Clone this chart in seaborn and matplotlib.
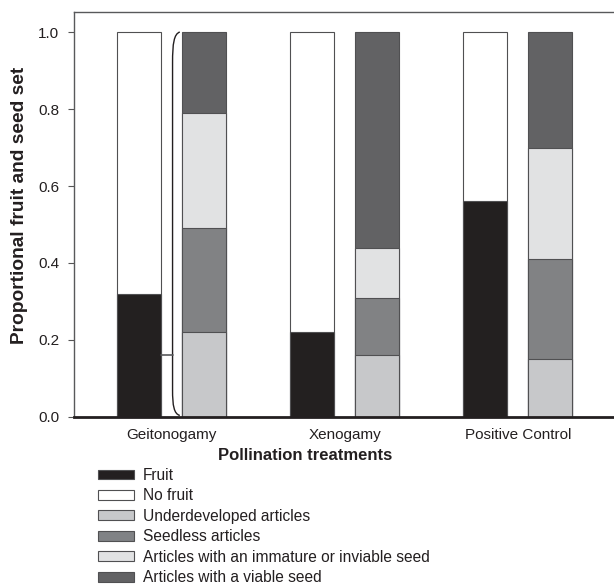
import matplotlib
matplotlib.use("Agg")
import matplotlib.pyplot as plt
from matplotlib.patches import Patch, PathPatch
from matplotlib.path import Path
import pandas as pd
import seaborn as sns

treatments = ["Geitonogamy", "Xenogamy", "Positive Control"]
fruit = [0.32, 0.22, 0.56]
no_fruit = [0.68, 0.78, 0.44]
underdeveloped = [0.22, 0.16, 0.15]
seedless = [0.27, 0.15, 0.26]
immature = [0.30, 0.13, 0.29]
viable = [0.21, 0.56, 0.30]

labels = ["Fruit", "No fruit", "Underdeveloped articles", "Seedless articles",
          "Articles with an immature or inviable seed", "Articles with a viable seed"]
colors = ["#231f20", "#ffffff", "#c7c8ca", "#808285", "#e1e2e3", "#626264"]
EDGE = "#505052"

sns.set_theme(style="white")
plt.rcParams["font.family"] = ["Liberation Sans", "DejaVu Sans"]

# stacked layers per slot, bottom to top
stacks = {
    "fruitset": [fruit, no_fruit],
    "articles": [underdeveloped, seedless, immature, viable],
}
color_of = {
    "fruitset": colors[:2],
    "articles": colors[2:],
}

fig = plt.figure(figsize=(6.14, 5.85), dpi=100)
ax = fig.add_axes([0.1205, 0.2872, 0.8790, 0.6923])

# cumulative tops, drawn tallest first so shorter ones overlay
layers = []
for slot, series in stacks.items():
    cum = [0.0] * len(treatments)
    for s, c in zip(series, color_of[slot]):
        cum = [a + b for a, b in zip(cum, s)]
        layers.append((slot, list(cum), c))

for slot, tops, c in sorted(layers, key=lambda l: -sum(l[1])):
    df = pd.DataFrame({"treatment": treatments, "top": tops, "slot": slot})
    sns.barplot(data=df, x="treatment", y="top", hue="slot",
                hue_order=["fruitset", "articles"], order=treatments,
                palette={"fruitset": c, "articles": c},
                dodge=True, width=0.75, gap=0.32, legend=False,
                edgecolor=EDGE, linewidth=0.8, errorbar=None, ax=ax)

# bracket linking Geitonogamy fruit to its articles
x0 = 0.004
x1 = 0.046
verts = [(x1, 1.0), (0.012, 0.995), (x0, 0.97), (x0, 0.92),
         (x0, 0.07), (x0, 0.03), (0.012, 0.008), (x1, 0.004)]
codes = [Path.MOVETO, Path.CURVE4, Path.CURVE4, Path.CURVE4,
         Path.LINETO, Path.CURVE4, Path.CURVE4, Path.CURVE4]
ax.add_patch(PathPatch(Path(verts, codes), fill=False, lw=1.0, ec="#231f20"))
ax.plot([-0.06, x0], [fruit[0] / 2, fruit[0] / 2], color="#58595b", lw=1.2)

ax.set_xlim(-0.566, 2.555)
ax.set_ylim(0, 1.052)
ax.set_yticks([0, 0.2, 0.4, 0.6, 0.8, 1.0])
ax.set_yticklabels(["0.0", "0.2", "0.4", "0.6", "0.8", "1.0"])
ax.tick_params(axis="y", left=True, length=4.5, width=0.8, color="#555555",
               labelsize=11, pad=6, labelcolor="#231f20")
ax.tick_params(axis="x", bottom=False, labelsize=11, pad=2, labelcolor="#231f20")
ax.set_xlabel("Pollination treatments", fontsize=12, fontweight="bold",
              color="#231f20")
ax.set_ylabel("Proportional fruit and seed set", fontsize=13.8, fontweight="bold",
              color="#231f20")
ax.xaxis.set_label_coords(0.428, -0.076)
ax.yaxis.set_label_coords(-0.085, 0.523)

for side in ["left", "top"]:
    ax.spines[side].set_color("#58595b")
    ax.spines[side].set_linewidth(1.0)
ax.spines["bottom"].set_color("#231f20")
ax.spines["bottom"].set_linewidth(2.0)
ax.spines["right"].set_visible(False)

handles = [Patch(facecolor=c, edgecolor=EDGE, linewidth=0.8) for c in colors]
fig.legend(handles, labels, loc="upper left", bbox_to_anchor=(98 / 614, 1 - 468 / 585),
           frameon=False, fontsize=11.2, handlelength=2.3, handleheight=0.6,
           handletextpad=0.6, labelspacing=0.35, borderpad=0, borderaxespad=0,
           labelcolor="#231f20")

fig.savefig("out.png", dpi=100)
